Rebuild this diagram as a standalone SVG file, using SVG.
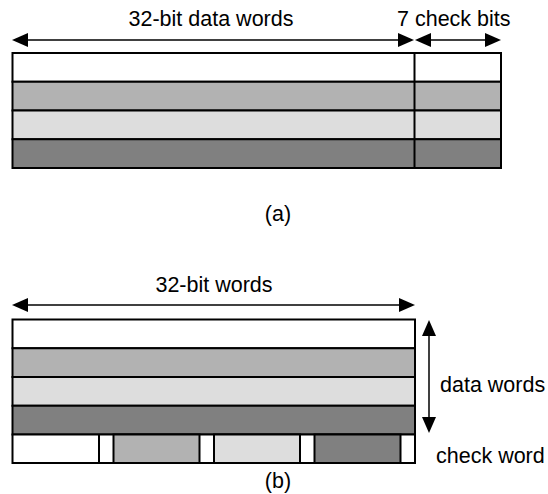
<svg xmlns="http://www.w3.org/2000/svg" width="548" height="494" viewBox="0 0 548 494">
  <style>
    text { font-family: "Liberation Sans", Arial, sans-serif; font-size: 21.5px; fill: #000; }
    .row { stroke: #000; stroke-width: 2; }
    .w { fill: #ffffff; }
    .g1 { fill: #b2b2b2; }
    .g2 { fill: #dddddd; }
    .g3 { fill: #808080; }
    .dim { stroke: #000; stroke-width: 1.5; fill: none; }
    .ah { fill: #000; stroke: none; }
  </style>

  <!-- (a) separate check bits per word -->
  <g id="layout-a">
    <rect class="row w" x="12.5" y="53" width="488.5" height="28.75"/>
    <rect class="row g1" x="12.5" y="81.75" width="488.5" height="28.75"/>
    <rect class="row g2" x="12.5" y="110.5" width="488.5" height="28.75"/>
    <rect class="row g3" x="12.5" y="139.25" width="488.5" height="28.75"/>
    <line class="row" x1="414.5" y1="53" x2="414.5" y2="168"/>
    <text x="211" y="25.5" text-anchor="middle">32-bit data words</text>
    <text x="397" y="25.5">7 check bits</text>
    <text x="278" y="220.5" text-anchor="middle">(a)</text>
  </g>

  <!-- (b) shared check word -->
  <g id="layout-b">
    <rect class="row w" x="12.5" y="319.5" width="402.5" height="28.75"/>
    <rect class="row g1" x="12.5" y="348.25" width="402.5" height="28.75"/>
    <rect class="row g2" x="12.5" y="377" width="402.5" height="28.75"/>
    <rect class="row g3" x="12.5" y="405.75" width="402.5" height="28.75"/>
    <rect class="row w" x="12.5" y="434.5" width="402.5" height="28.5"/>
    <rect class="row g1" x="113.5" y="434.5" width="86" height="28.5"/>
    <rect class="row g2" x="214" y="434.5" width="86" height="28.5"/>
    <rect class="row g3" x="314.5" y="434.5" width="86" height="28.5"/>
    <line class="row" x1="99" y1="434.5" x2="99" y2="463"/>
    <text x="214" y="291.5" text-anchor="middle">32-bit words</text>
    <text x="440" y="391.5">data words</text>
    <text x="436" y="463">check word</text>
    <text x="278" y="488" text-anchor="middle">(b)</text>
  </g>

  <!-- dimension arrows -->
  <g id="connectors">
    <line class="dim" x1="26" y1="40" x2="400" y2="40"/>
    <polygon class="ah" points="12,40 28,33 28,47"/>
    <polygon class="ah" points="414,40 398,33 398,47"/>
    <line class="dim" x1="430" y1="40" x2="486" y2="40"/>
    <polygon class="ah" points="415,40 431,33 431,47"/>
    <polygon class="ah" points="501,40 485,33 485,47"/>

    <line class="dim" x1="26" y1="305" x2="401" y2="305"/>
    <polygon class="ah" points="12,305 28,298 28,312"/>
    <polygon class="ah" points="415,305 399,298 399,312"/>

    <line class="dim" x1="429" y1="334" x2="429" y2="419"/>
    <polygon class="ah" points="429,320 422,336 436,336"/>
    <polygon class="ah" points="429,433 422,417 436,417"/>
  </g>
</svg>
